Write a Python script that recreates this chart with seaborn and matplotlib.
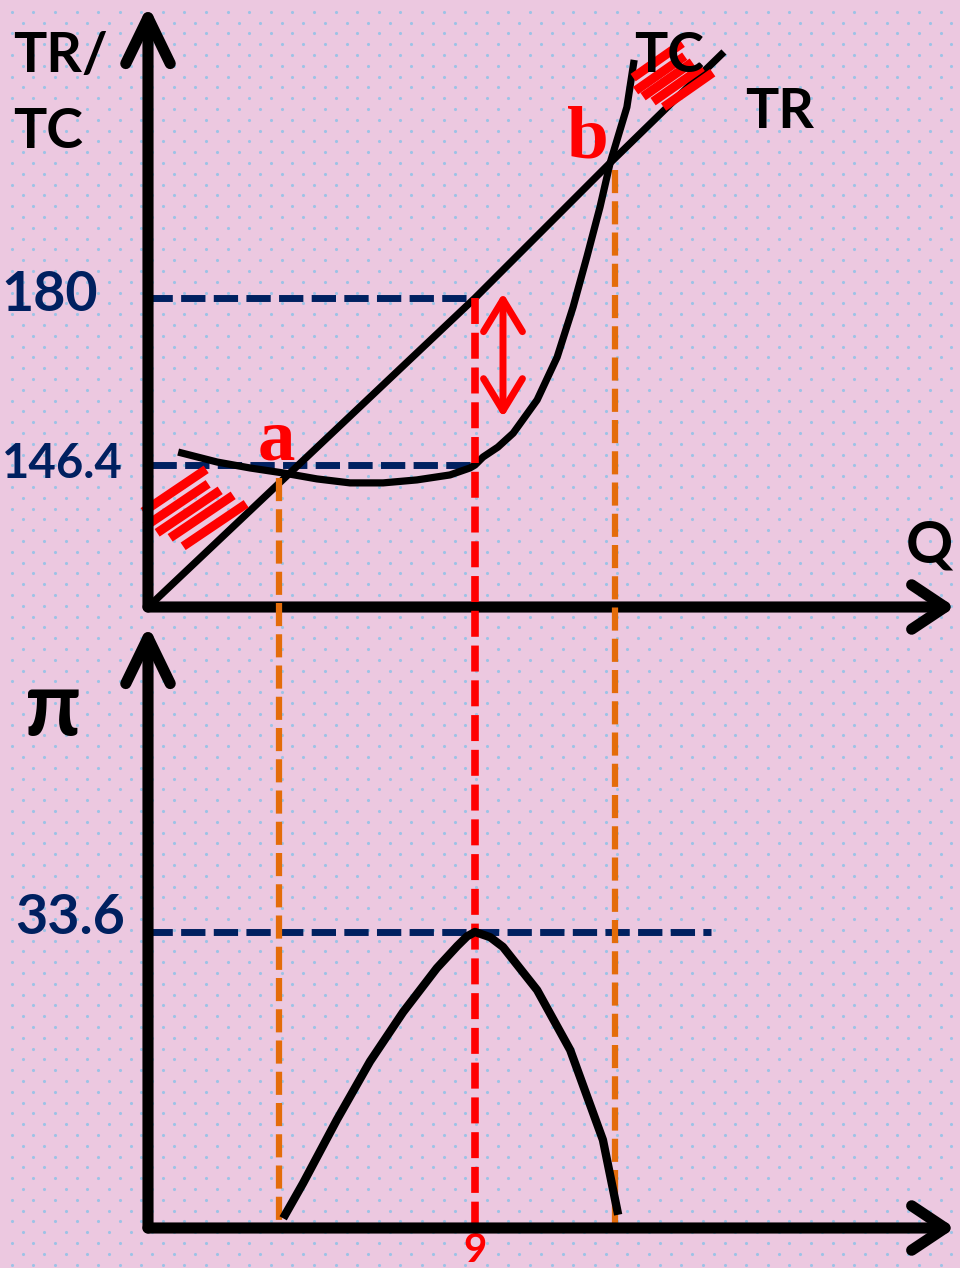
import numpy as np
import matplotlib
matplotlib.use("Agg")
import matplotlib.pyplot as plt
import seaborn as sns

sns.set_theme(style="white")
plt.rcParams["font.family"] = ["Lato", "DejaVu Sans"]

W, H = 960, 1268

# values read off the schematic (not drawn to scale)
tr_q = [0, 9, 12.72, 15.85]
tr_v = [117.8, 180, 207.2, 229.5]

tc_q = [0.83, 1.9, 2.81, 3.72, 4.65, 5.56, 6.47, 7.40, 8.31, 8.86, 9.0,
        9.22, 9.63, 10.05, 10.71, 11.26, 11.70, 12.08, 12.44, 12.72, 13.18, 13.38]
tc_v = [149.0, 147.0, 145.8, 144.8, 143.6, 142.8, 142.8, 143.4, 144.4, 145.8, 146.4,
        148.0, 150.0, 152.8, 159.5, 168.1, 178.2, 188.3, 198.3, 207.2, 218.4, 227.9]

profit_q = [3.72, 4.27, 5.20, 6.11, 7.02, 7.95, 8.51, 8.78, 9.0, 9.42, 9.77,
            10.71, 11.62, 12.52, 12.94]
profit_v = [1.1, 5.1, 12.3, 18.9, 24.5, 29.5, 32.0, 33.1, 33.6, 33.0, 31.9,
            27.0, 20.2, 10.0, 1.5]

q_max = 9
tr_at_max, tc_at_max, profit_at_max = 180, 146.4, 33.6
breakeven_q = [3.6, 12.85]
breakeven_v = [143.8, 205.8]
arrow_q, arrow_top, arrow_bottom = 9.77, 181, 156

NAVY, ORANGE, RED = "#002060", "#E46C0A", "#FF0000"
PINK, DOT = "#ECC8E0", "#9DC3E6"

fig = plt.figure(figsize=(W / 100, H / 100), dpi=100)
fig.patch.set_facecolor(PINK)

# dotted paper background
bg = fig.add_axes([0, 0, 1, 1], zorder=-1)
bg.set_xlim(0, W)
bg.set_ylim(H, 0)
bg.axis("off")
rows = np.arange(11.7, H, 10.8)
for j, yy in enumerate(rows):
    xs = np.arange(11.7 + (10.8 if j % 2 else 0), W, 21.6)
    bg.scatter(xs, np.full_like(xs, yy), s=5, color=DOT, linewidths=0)

ax1 = fig.add_axes([148 / W, 1 - 607 / H, 807 / W, 602 / H])
ax2 = fig.add_axes([148 / W, 1 - 1228 / H, 807 / W, 603 / H])
for ax in (ax1, ax2):
    ax.set_facecolor("none")
    ax.set_xlim(0, 22.21)
ax1.set_ylim(117.83, 238.95)
ax2.set_ylim(0, 68.44)
ax1.axis("off")
for s in ax2.spines.values():
    s.set_visible(False)
ax2.set_yticks([])
ax2.set_xticks([q_max])
ax2.set_xticklabels([str(q_max)])
ax2.tick_params(axis="x", length=0, pad=3, labelsize=29, labelcolor=RED)
for lab in ax2.get_xticklabels():
    lab.set_fontweight("bold")


def to_ax2(q, v):
    disp = ax1.transData.transform((q, v))
    return ax2.transData.inverted().transform(disp)[1]


dash_kw = dict(linewidth=5, dashes=(3.5, 1.2), dash_capstyle="butt")

# navy guide lines
ax1.plot([0, q_max], [tr_at_max, tr_at_max], color=NAVY, zorder=2, **dash_kw)
ax1.plot([0.1, q_max], [tc_at_max, tc_at_max], color=NAVY, zorder=2, **dash_kw)
ax2.plot([0, 15.5], [profit_at_max, profit_at_max], color=NAVY, zorder=2, **dash_kw)

# orange break-even drop lines and red max-profit line
for q, v in zip(breakeven_q, breakeven_v):
    ax2.plot([q, q], [to_ax2(q, v), 0], color=ORANGE, zorder=3, clip_on=False,
             linewidth=4.5, dashes=(3.7, 1.3))
ax2.plot([q_max, q_max], [to_ax2(q_max, tr_at_max), -0.4], color=RED, zorder=4,
         clip_on=False, linewidth=5.5, dashes=(3.4, 1.15))

# curves
curve_kw = dict(color="black", estimator=None, sort=False, zorder=5,
                solid_joinstyle="round", solid_capstyle="butt")
sns.lineplot(x=tr_q, y=tr_v, ax=ax1, linewidth=5.2, **curve_kw)
sns.lineplot(x=tc_q, y=tc_v, ax=ax1, linewidth=5.2, **curve_kw)
sns.lineplot(x=profit_q, y=profit_v, ax=ax2, linewidth=6, **curve_kw)
ax1.set_xlim(0, 22.21)
ax1.set_ylim(117.83, 238.95)
ax2.set_xlim(0, 22.21)
ax2.set_ylim(0, 68.44)
ax1.set_xlabel("")
ax2.set_xlabel("")


# red hatch strokes at both ends of TC
def hatch(anchor, offsets, length, angle):
    base = ax1.transData.transform(anchor)
    c, s = np.cos(np.radians(angle)), np.sin(np.radians(angle))
    for dx, dy in offsets:
        cx, cy = base[0] + dx, base[1] - dy
        pts = np.array([[cx - length / 2 * c, cy - length / 2 * s],
                        [cx + length / 2 * c, cy + length / 2 * s]])
        d = ax1.transData.inverted().transform(pts)
        ax1.plot(d[:, 0], d[:, 1], color=RED, linewidth=6.5, solid_capstyle="butt",
                 zorder=6, clip_on=False)


hatch((tc_q[0], tc_v[0]), [(-3.5, 38.5), (-1.5, 53), (10.5, 59.5), (23.5, 64.5), (36.5, 73)], 76, 34)
hatch((tc_q[-1], tc_v[-1]), [(23.5, 0.5), (26, 13.5), (33.5, 19.5), (43.5, 24.5), (54, 30)], 60, 35)

# red double arrow showing the profit gap
ax1.annotate("", xy=(arrow_q, arrow_top), xytext=(arrow_q, arrow_bottom),
             arrowprops=dict(arrowstyle="<->,head_length=23,head_width=14", lw=5,
                             color=RED, shrinkA=0, shrinkB=0, mutation_scale=1,
                             capstyle="round"), zorder=6)

# axes arrows
for ax in (ax1, ax2):
    ax.annotate("", xy=(0, 1), xytext=(0, 0), xycoords="axes fraction",
                arrowprops=dict(arrowstyle="->,head_length=33,head_width=16", lw=8,
                                color="black", shrinkA=0, shrinkB=0, mutation_scale=1,
                                capstyle="round"), zorder=7, annotation_clip=False)
    ax.annotate("", xy=(1, 0), xytext=(0, 0), xycoords="axes fraction",
                arrowprops=dict(arrowstyle="->,head_length=24,head_width=16", lw=8,
                                color="black", shrinkA=0, shrinkB=0, mutation_scale=1,
                                capstyle="round"), zorder=7, annotation_clip=False)

# value labels on the axes
for ax, val, dx, dy, size in ((ax1, tr_at_max, 50, 3, 40), (ax1, tc_at_max, 25, 1, 34),
                              (ax2, profit_at_max, 23, 14, 40)):
    ax.annotate(f"{val:g}", xy=(0, val), xycoords=ax.get_yaxis_transform(),
                xytext=(-dx, dy), textcoords="offset pixels", ha="right", va="center",
                fontsize=size, fontweight="bold", color=NAVY, annotation_clip=False)


def fpx(x, y):
    return x / W, 1 - y / H


bold = dict(fontweight="bold", color="black", va="baseline", ha="left")
fig.text(*fpx(13, 72), "TR/", fontsize=40, **bold)
fig.text(*fpx(13, 148), "TC", fontsize=40, **bold)
fig.text(*fpx(634, 72), "TC", fontsize=40, zorder=1, **bold)
fig.text(*fpx(745, 128), "TR", fontsize=40, **bold)
fig.text(*fpx(906, 562), "Q", fontsize=42, **bold)
fig.text(*fpx(53, 735), "π", fontsize=64, fontweight="bold", color="black",
         ha="center", va="baseline")

serif = dict(family="Liberation Serif", fontweight="bold", color=RED, fontsize=54,
             ha="center", va="baseline")
fig.text(*fpx(276, 460), "a", **serif)
fig.text(*fpx(588, 158), "b", **serif)

fig.savefig("out.png", dpi=100, facecolor=PINK)
